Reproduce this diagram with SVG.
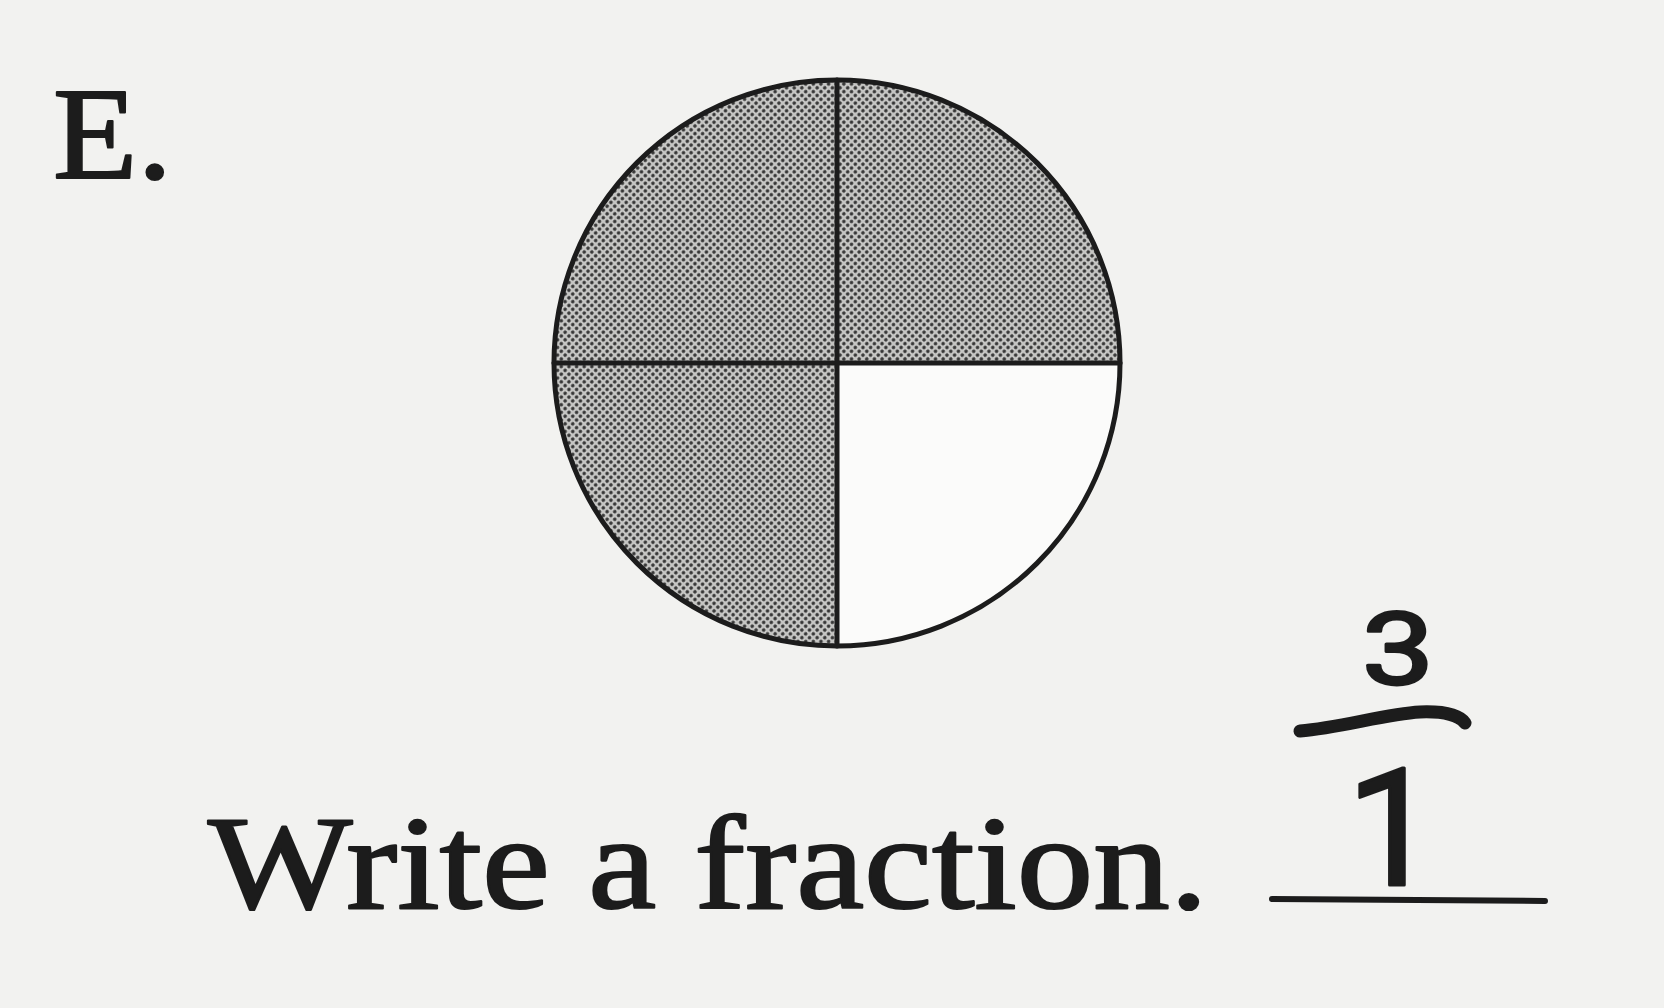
<svg xmlns="http://www.w3.org/2000/svg" width="1664" height="1008" viewBox="0 0 1664 1008">
<defs>
<style>
.ink{fill:#1c1c1c}
.serif{font-family:"Liberation Serif","Times New Roman",serif;stroke:#1c1c1c;stroke-width:2.2;stroke-linejoin:round}
.hand{font-family:Roboto,"Liberation Sans",Arial,sans-serif;stroke:#1c1c1c;stroke-width:3;stroke-linejoin:round}
.line{stroke:#1c1c1c;stroke-width:5;fill:none;stroke-linecap:round}
</style>
<pattern id="dots" width="5.4" height="5.4" patternUnits="userSpaceOnUse" patternTransform="rotate(45)">
<rect width="5.4" height="5.4" fill="#c6c6c4"/>
<circle cx="2.7" cy="2.7" r="1.75" fill="#353535"/>
</pattern>
</defs>
<rect width="1664" height="1008" fill="#f2f2f0"/>
<g id="label-E">
<text class="serif ink" x="53" y="178" font-size="132" textLength="119" lengthAdjust="spacingAndGlyphs">E.</text>
</g>
<g id="circle">
<circle cx="837" cy="363" r="283" fill="url(#dots)"/>
<path d="M837,363 L1120,363 A283,283 0 0 1 837,646 Z" fill="#fbfbfa"/>
<circle class="line" cx="837" cy="363" r="283"/>
<line class="line" x1="837" y1="80" x2="837" y2="646"/>
<line class="line" x1="554" y1="363" x2="1120" y2="363"/>
</g>
<g id="prompt">
<text class="serif ink" x="208" y="908" font-size="134" textLength="1000" lengthAdjust="spacingAndGlyphs">Write a fraction.</text>
</g>
<g id="answer">
<text class="hand ink" x="1362" y="684" font-size="100" textLength="72" lengthAdjust="spacingAndGlyphs">3</text>
<path d="M1300,731 C1340,728 1385,714 1420,712 C1445,711 1460,716 1465,723" stroke="#1c1c1c" stroke-width="13" fill="none" stroke-linecap="round"/>
<text class="hand ink" x="1392" y="885" font-size="163" text-anchor="middle">1</text>
<line x1="1272" y1="899" x2="1545" y2="901" stroke="#1c1c1c" stroke-width="6" stroke-linecap="round"/>
</g>
</svg>
